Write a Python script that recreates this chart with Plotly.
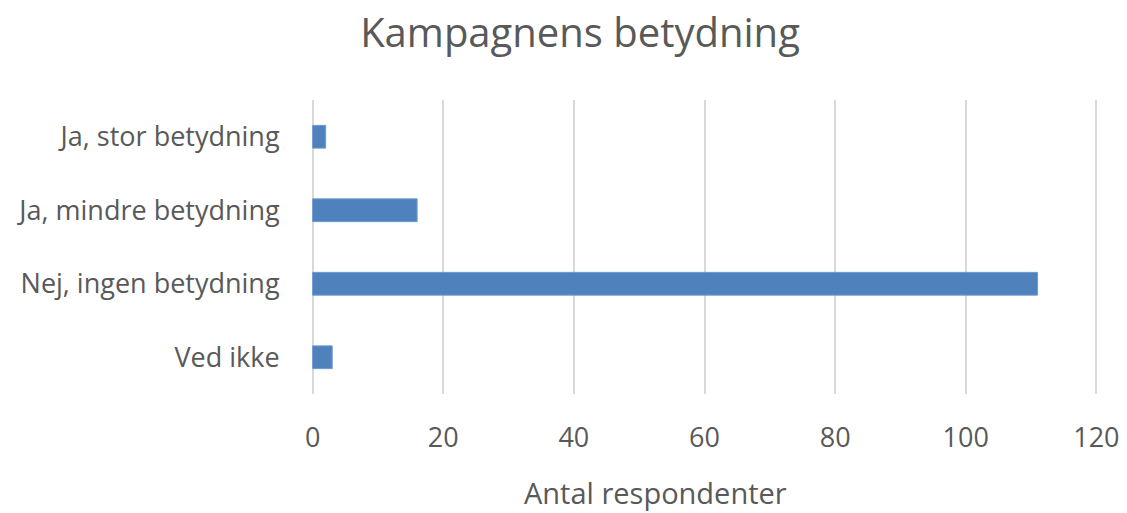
import plotly.graph_objects as go

categories = ["Ja, stor betydning", "Ja, mindre betydning", "Nej, ingen betydning", "Ved ikke"]
values = [2, 16, 111, 3]
x_ticks = [0, 20, 40, 60, 80, 100, 120]
x_title = "Antal respondenter"
chart_title = "Kampagnens betydning"

W, H = 1127, 513
PLOT_W, PLOT_H = 789, 294

fig = go.Figure(go.Bar(
    x=values, y=categories, orientation="h",
    marker=dict(color="#4f81bd", line=dict(color="#6f9bd1", width=1)),
))
fig.update_layout(
    width=W, height=H,
    margin=dict(l=310, r=28, t=100, b=119, autoexpand=False),
    paper_bgcolor="white", plot_bgcolor="white",
    font=dict(family="Open Sans", color="#595959", size=27),
    title=dict(text=chart_title, x=580 / W, xanchor="center", y=1 - 33 / H, yanchor="middle",
               font=dict(size=40, color="#595959")),
    bargap=0.69,
    showlegend=False,
    annotations=[dict(text=x_title, xref="paper", yref="paper", x=(655 - 310) / PLOT_W,
                      y=-98 / PLOT_H, xanchor="center", yanchor="middle", showarrow=False,
                      font=dict(size=29, color="#595959"))],
)
fig.update_xaxes(range=[-0.4, 120.4], tickvals=x_ticks, showgrid=True, gridcolor="#d9d9d9", gridwidth=1.5,
                 zeroline=False, showline=False, ticks="outside", ticklen=20, tickcolor="rgba(0,0,0,0)",
                 automargin=False, tickfont=dict(size=27), ticklabeloverflow="allow")
fig.update_yaxes(categoryorder="array", categoryarray=categories, autorange="reversed", automargin=False,
                 showgrid=False, zeroline=False, showline=False, ticks="outside", ticklen=24,
                 tickcolor="rgba(0,0,0,0)", tickfont=dict(size=27))
fig.write_html("out.html", config={"displayModeBar": False},
               post_script="document.body.style.margin='0';")
